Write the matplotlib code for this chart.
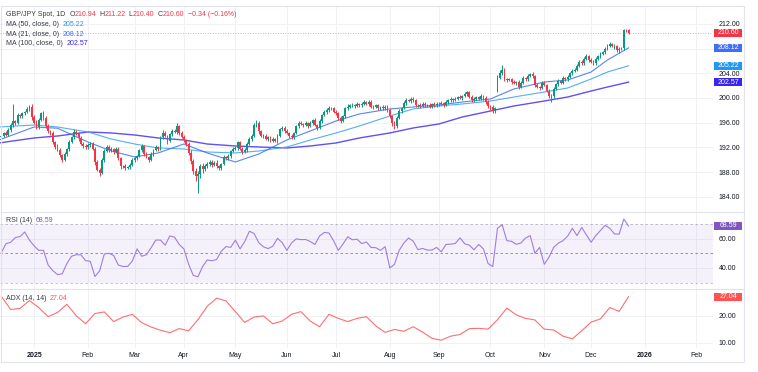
import numpy as np
import pandas as pd
import matplotlib
matplotlib.use('Agg')
import matplotlib.pyplot as plt
from matplotlib.patches import Rectangle
from matplotlib.lines import Line2D

plt.rcParams['font.family'] = ['Liberation Sans', 'DejaVu Sans']

W, H = 758, 372

# --- data --------------------------------------------------------------
dates = pd.bdate_range('2024-12-11', '2025-12-23')

closes = [
    193.6, 193.9, 194.3, 194.0, 194.8, 195.6, 196.3, 196.0, 197.2, 197.0, 197.5, 197.7, 198.2, 198.6, 196.9,
    196.0, 195.3, 196.5, 197.5, 196.8, 195.5, 194.6, 194.3, 192.8, 192.1, 191.6, 190.8, 190.0, 190.9, 191.7, 192.9, 193.6, 194.5, 194.3, 193.5, 192.6, 192.2, 192.0,
    192.4, 192.6, 191.8, 189.6, 188.4, 187.9, 190.0, 191.4, 192.1, 191.5, 191.7, 191.3, 191.8, 190.2, 188.9, 189.0, 188.7, 188.8, 189.1, 189.9,
    190.3, 190.6, 191.5, 192.2, 191.0, 190.4, 190.0, 190.9, 191.6, 192.0, 191.7, 193.6, 194.4, 193.8, 193.0, 194.1, 194.7, 194.5, 195.4, 194.3, 193.7,
    193.2, 192.6, 191.1, 189.8, 188.2, 187.3, 187.6, 188.9, 188.5, 188.9, 189.3, 189.6, 189.2, 189.5, 188.9, 188.7, 189.3, 190.4, 190.2, 190.6, 191.4, 191.7,
    191.9, 192.8, 191.8, 191.3, 191.6, 192.6, 193.3, 193.9, 195.6, 195.9, 194.6, 193.8, 193.9, 193.4, 193.6, 193.1, 193.3, 193.0, 193.9, 194.9, 195.2, 194.6,
    194.3, 193.8, 193.6, 194.3, 195.4, 196.0, 195.8, 195.6, 195.9, 195.5, 196.0, 196.4, 195.6, 195.1, 196.3, 197.2, 197.7, 198.0, 198.4, 198.3, 197.8,
    197.5, 196.8, 196.3, 197.0, 198.3, 198.6, 198.8, 198.9, 198.7, 199.0, 198.8, 199.1, 199.3, 199.0, 199.4, 198.6, 198.5, 198.8, 198.3, 198.5, 198.3, 198.6, 198.0,
    197.0, 195.9, 195.5, 196.8, 197.9, 198.4, 199.2, 199.7, 199.5, 199.9, 199.6, 198.8, 198.9, 198.7, 199.1, 198.8, 198.9, 198.6, 199.0, 198.8, 199.1,
    199.0, 199.2, 198.9, 199.3, 199.6, 199.8, 199.7, 199.9, 200.2, 200.0, 200.3, 200.6, 200.9, 200.2, 199.6, 199.9, 200.1, 199.9, 200.3, 200.0, 199.4, 198.7,
    198.5, 197.9, 198.4, 203.3, 204.1, 204.5, 203.1, 202.9, 203.0, 202.6, 202.4, 202.6, 201.8, 202.5, 203.2, 203.0, 203.6, 203.9, 203.5, 202.1, 201.8, 201.6, 202.5,
    202.1, 201.2, 200.4, 200.3, 201.5, 202.3, 202.7, 202.5, 203.2, 203.0, 203.4, 204.0, 204.4, 204.6, 205.2, 205.8, 205.6, 206.4, 206.8, 206.2,
    205.9, 205.6, 206.3, 206.8, 207.2, 207.4, 207.9, 208.5, 208.7, 208.4, 208.4, 207.7, 208.0, 208.1, 211.0, 210.94, 210.60,
]
first_open = 193.3
gap_opens = {'2025-10-06': 201.2}

# wick lengths in tenths of a yen
wick_up = [
    2, 3, 2, 4, 3, 3, 27, 2, 3, 2, 3, 2, 3, 3, 4,
    3, 4, 2, 3, 4, 2, 3, 2, 3, 2, 4, 3, 2, 3, 2, 3, 2, 4, 3, 2, 3, 2, 3,
    3, 2, 3, 2, 3, 2, 3, 4, 3, 2, 3, 2, 3, 2, 3, 2, 3, 2, 3, 3,
    3, 2, 3, 4, 2, 3, 2, 3, 2, 3, 2, 3, 4, 3, 2, 3, 2, 3, 5, 2, 3,
    3, 2, 3, 4, 3, 5, 6, 4, 5, 4, 3, 4, 3, 3, 4, 3, 2, 3, 2, 3, 2, 3,
    3, 2, 3, 2, 3, 2, 3, 3, 4, 6, 3, 2, 3, 2, 3, 2, 3, 2, 3, 3, 2, 3,
    3, 2, 3, 2, 3, 2, 3, 2, 3, 2, 3, 2, 3, 2, 3, 2, 3, 4, 3, 2, 3,
    3, 2, 3, 2, 3, 4, 2, 3, 2, 3, 2, 3, 4, 2, 3, 2, 3, 2, 3, 2, 3, 2, 3,
    3, 2, 3, 2, 3, 2, 3, 3, 2, 3, 2, 3, 2, 3, 2, 3, 2, 3, 2, 3, 2,
    2, 3, 2, 3, 2, 3, 2, 3, 2, 3, 2, 3, 3, 2, 3, 2, 3, 2, 3, 2, 3, 2,
    2, 3, 2, 4, 4, 8, 3, 2, 3, 2, 3, 2, 3, 2, 3, 2, 3, 2, 3, 2, 3, 2, 3,
    3, 2, 3, 2, 3, 2, 3, 2, 3, 2, 3, 2, 3, 2, 3, 4, 3, 2, 3, 2,
    3, 2, 3, 2, 3, 2, 3, 2, 3, 2, 3, 2, 3, 2, 2, 2, 3,
]
wick_dn = [
    3, 2, 3, 2, 2, 3, 3, 4, 2, 3, 2, 3, 2, 3, 4,
    2, 3, 3, 2, 3, 4, 2, 3, 3, 4, 2, 3, 4, 2, 3, 3, 2, 2, 3, 4, 2, 3, 2,
    2, 3, 3, 4, 3, 5, 2, 3, 2, 3, 2, 3, 2, 3, 4, 3, 3, 2, 3, 2,
    2, 3, 2, 3, 4, 2, 3, 2, 3, 2, 3, 2, 3, 2, 4, 2, 3, 2, 3, 3, 2,
    3, 4, 4, 5, 6, 8, 27, 5, 6, 4, 3, 3, 4, 3, 3, 4, 3, 2, 3, 2, 3, 2,
    2, 3, 2, 3, 2, 3, 2, 3, 2, 3, 4, 2, 3, 2, 3, 2, 3, 2, 3, 2, 3, 2,
    2, 3, 2, 3, 2, 3, 2, 3, 2, 3, 2, 3, 2, 3, 2, 3, 2, 3, 2, 3, 3,
    2, 3, 4, 2, 3, 2, 3, 2, 3, 2, 3, 2, 3, 2, 3, 2, 3, 2, 3, 2, 3, 2, 3,
    3, 4, 5, 3, 2, 3, 2, 3, 2, 3, 2, 3, 2, 3, 2, 3, 2, 3, 2, 3, 2,
    3, 2, 3, 2, 3, 2, 3, 2, 3, 2, 3, 2, 3, 2, 3, 2, 3, 2, 3, 3, 4, 4,
    4, 3, 3, 3, 3, 3, 4, 3, 2, 3, 2, 3, 4, 2, 3, 2, 3, 2, 3, 3, 2, 3, 2,
    2, 3, 4, 9, 3, 2, 3, 2, 3, 2, 3, 2, 3, 2, 3, 2, 3, 2, 3, 3,
    3, 2, 3, 2, 3, 2, 3, 2, 3, 2, 5, 3, 4, 3, 3, 3, 2,
]

ma_dates = ['2024-12-11', '2025-01-01', '2025-01-15', '2025-02-03', '2025-02-17', '2025-03-03',
            '2025-03-17', '2025-04-01', '2025-04-15', '2025-05-01', '2025-05-15', '2025-06-02',
            '2025-06-16', '2025-07-01', '2025-07-15', '2025-08-01', '2025-08-15', '2025-09-01',
            '2025-09-15', '2025-10-01', '2025-10-15', '2025-11-03', '2025-11-17', '2025-12-01',
            '2025-12-10', '2025-12-23']
ma21 = [193.19, 195.30, 195.10, 192.87, 191.41, 190.44, 191.09, 192.54, 191.09, 189.63, 190.92, 193.19,
        194.65, 196.27, 197.41, 198.22, 198.54, 198.87, 199.35, 199.84, 201.46, 202.59, 202.92, 204.21,
        206.16, 208.12]
ma50 = [195.30, 195.62, 195.30, 194.49, 193.35, 192.54, 191.90, 191.73, 191.25, 191.09, 191.41, 192.06,
        193.19, 194.33, 195.46, 197.08, 198.22, 198.70, 199.03, 199.51, 200.16, 200.97, 201.62, 203.08,
        204.21, 205.22]
ma100 = [192.71, 193.52, 193.84, 194.49, 194.33, 194.00, 193.52, 193.19, 192.54, 192.22, 192.06, 191.90,
         192.22, 192.71, 193.52, 194.33, 195.14, 195.79, 196.92, 197.89, 198.70, 199.51, 200.16, 201.13,
         201.78, 202.57]

# RSI read every second bar, ADX every fourth bar
rsi14 = [
    50.5, 56.5, 57.5, 60.7, 61.4, 64.5, 59, 55, 52, 52,
    42, 38.2, 35.5, 36, 43, 48, 49, 49, 45, 44.5,
    34.2, 38, 49.5, 50, 48.5, 42, 41, 41.1, 44.8, 53,
    48, 49, 53.8, 59, 59, 55.5, 61.8, 61, 56, 53,
    42.7, 35, 34, 41, 45.5, 44.9, 45.8, 51.4, 54.6, 54,
    59, 53, 58, 65, 63.5, 57.2, 54.4, 53.2, 54.8, 60.2,
    57.3, 52, 57, 59.8, 59.3, 59.4, 58, 56, 61.8, 64.2,
    63.8, 58.5, 52, 56.3, 61.2, 59.2, 59.6, 56.6, 57.7, 54,
    53.8, 52, 54.5, 40, 42.5, 52, 57, 60.4, 58.3, 52.5,
    53.3, 52.2, 52.2, 54, 51, 56, 56.2, 56.7, 60.5, 56.5,
    55.5, 52.4, 56, 53, 43, 41, 67, 69.5, 58.6, 58.2,
    56.1, 57, 60.4, 62, 50, 54, 42.5, 47.3, 54, 56.9,
    58.6, 61.7, 67, 62, 67.6, 62.5, 57.5, 62, 65.5, 69,
    67, 63.2, 63, 73.3, 68.59,
]
adx14 = [
    27.2, 22.3, 22.7, 25.6, 23, 19.6, 21.2, 24.2, 20, 17,
    20.8, 21.4, 17.8, 19.5, 20.5, 17.4, 15.8, 14.6, 13.7, 15.2,
    14.4, 18.5, 23.5, 26.5, 25.5, 21.5, 17.5, 19.5, 19.9, 17,
    18, 20.5, 21.5, 18, 15.9, 20.5, 19, 17.8, 19, 19.6,
    16.2, 13.8, 14.9, 14.2, 15.9, 13.9, 11.6, 10.9, 12.4, 13,
    15.2, 15.3, 15, 18.5, 22.8, 20.3, 19, 18.4, 15, 14.7,
    12.4, 11.4, 14.4, 17.6, 18.8, 23, 21.6, 27.04,
]

price_ticks = [184, 188, 192, 196, 200, 204, 208, 212]
rsi_ticks = [40, 60]
adx_ticks = [10, 20]

UP, DOWN = '#089981', '#F23645'
TXT = '#363a45'
C21, C50, C100 = '#3d6ef5', '#42a5f5', '#3a24f0'
RSI_C, ADX_C = '#a27ddf', '#ff6e6e'

# --- derived -------------------------------------------------------------
c = np.array(closes)
o = np.r_[first_open, c[:-1]]
for d, v in gap_opens.items():
    o[dates.get_loc(pd.Timestamp(d))] = v
hi = np.maximum(o, c) + np.array(wick_up) / 10
lo = np.minimum(o, c) - np.array(wick_dn) / 10
idx = np.arange(len(dates))
ma_x = [dates.get_loc(pd.Timestamp(d)) for d in ma_dates]

# month ticks, running on into 2026
cal = pd.bdate_range('2024-12-11', '2026-02-27')
month_x, month_lab = [], []
for p in pd.period_range('2025-01', '2026-02', freq='M'):
    i = int(np.argmax((cal.year == p.year) & (cal.month == p.month)))
    month_x.append(i)
    month_lab.append(str(p.year) if p.month == 1 else p.strftime('%b'))

fig = plt.figure(figsize=(W / 100, H / 100), dpi=100)


def px_axes(x0, y0, x1, y1):
    return fig.add_axes([x0 / W, 1 - y1 / H, (x1 - x0) / W, (y1 - y0) / H])


ax = px_axes(0, 6, 713, 212)
ax_rsi = px_axes(0, 212, 713, 289)
ax_adx = px_axes(0, 289, 713, 348)

for a in (ax, ax_rsi, ax_adx):
    for s in a.spines.values():
        s.set_visible(False)
    a.set_xlim(0.43, 305.1)
    a.set_xticks(month_x)
    a.yaxis.tick_right()
    a.tick_params(length=0, labelsize=5, colors='#131722', pad=4)
    a.grid(True, color='#eff1f5', lw=0.7)
    a.set_axisbelow(True)

ax.tick_params(labelbottom=False)
ax_rsi.tick_params(labelbottom=False)
ax_adx.set_xticklabels(month_lab)
ax_adx.tick_params(axis='x', pad=3)
for t in ax_adx.get_xticklabels():
    if t.get_text().isdigit():
        t.set_fontweight('bold')

# candles
col = np.where(c >= o, UP, DOWN)
ax.vlines(idx, lo, hi, colors=col, lw=0.7, zorder=3)
body = np.where(np.abs(c - o) < 0.08, 0.08, c - o)
ax.bar(idx, body, bottom=o, width=0.78, color=col, lw=0, zorder=3)

ax.plot(ma_x, ma100, color=C100, lw=1.0, alpha=0.8, zorder=2)
ax.plot(ma_x, ma50, color=C50, lw=0.8, alpha=0.9, zorder=2)
ax.plot(ma_x, ma21, color=C21, lw=0.8, alpha=0.85, zorder=2)
ax.axhline(closes[-1], color=DOWN, lw=0.6, ls=(0, (1, 2)), alpha=0.6)
ax.set_ylim(181.52, 214.91)
ax.set_yticks(price_ticks)
# 208.00 sits under the MA(21) price tag in the original
ax.set_yticklabels(['' if v == 208 else f'{v:.2f}' for v in price_ticks])

# RSI
ax_rsi.axhspan(30, 70, color='#7e57c2', alpha=0.08, lw=0)
for lvl, al in ((70, 0.5), (50, 0.9), (30, 0.5)):
    ax_rsi.axhline(lvl, color='#787b86', lw=0.6, ls=(0, (3, 3)), alpha=al)
ax_rsi.plot(idx[1::2], rsi14, color=RSI_C, lw=0.8)
ax_rsi.set_ylim(25.7, 78.1)
ax_rsi.set_yticks(rsi_ticks)
ax_rsi.set_yticklabels([f'{v:.2f}' for v in rsi_ticks])

# ADX
ax_adx.plot(idx[1::4], adx14, color=ADX_C, lw=0.8)
ax_adx.set_ylim(8.0, 29.9)
ax_adx.set_yticks(adx_ticks)
ax_adx.set_yticklabels([f'{v:.2f}' for v in adx_ticks])

# frame and pane separators
fig.patches.append(Rectangle((1 / W, 1 - 362 / H), 743 / W, 356 / H, transform=fig.transFigure,
                             fill=False, ec='#e0e3eb', lw=0.8))
for yy in (212, 289):
    fig.lines.append(Line2D([1 / W, 744 / W], [1 - yy / H] * 2, transform=fig.transFigure,
                            color='#e0e3eb', lw=0.8))


def tag(a, val, s, fc):
    yd = a.transData.transform((1, val))[1] / H
    fig.patches.append(Rectangle((714 / W, yd - 4 / H), 28 / W, 8 / H, transform=fig.transFigure,
                                 fc=fc, ec='none', zorder=5))
    fig.text(728 / W, yd, s, ha='center', va='center', color='white', fontsize=5, zorder=6)


tag(ax, closes[-1], f'{closes[-1]:.2f}', DOWN)
tag(ax, ma21[-1], f'{ma21[-1]:.2f}', C21)
tag(ax, ma50[-1], f'{ma50[-1]:.2f}', '#2196f3')
tag(ax, ma100[-1], f'{ma100[-1]:.2f}', C100)
tag(ax_rsi, rsi14[-1], f'{rsi14[-1]:.2f}', '#7e57c2')
tag(ax_adx, adx14[-1], f'{adx14[-1]:.2f}', '#ff5252')

rend = fig.canvas.get_renderer()


def rich(x, y, parts, gap=0.0):
    for s, colr in parts:
        t = fig.text(x / W, 1 - y / H, s, color=colr, fontsize=5, va='center', ha='left', zorder=7)
        x += t.get_window_extent(renderer=rend).width + gap
    return x


x_end = rich(6, 15, [('GBP/JPY Spot, 1D', TXT)]) + 4
for k, v in (('O', '210.94'), ('H', '211.22'), ('L', '210.40'), ('C', '210.60')):
    x_end = rich(x_end, 15, [(k, TXT), (v, DOWN)]) + 3
rich(x_end + 1, 15, [('\u22120.34 (\u22120.16%)', DOWN)])
rich(6, 24.3, [('MA (50, close, 0)', TXT), (f'{ma50[-1]:.2f}', '#2196f3')], gap=3.5)
rich(6, 34, [('MA (21, close, 0)', TXT), (f'{ma21[-1]:.2f}', C21)], gap=3.5)
rich(6, 43.7, [('MA (100, close, 0)', TXT), (f'{ma100[-1]:.2f}', C100)], gap=3.5)
rich(6, 220, [('RSI (14)', TXT), (f'{rsi14[-1]:.2f}', '#7e57c2')], gap=3.5)
rich(6, 299, [('ADX (14, 14)', TXT), (f'{adx14[-1]:.2f}', '#ff5252')], gap=3.5)

fig.savefig('out.png', dpi=100)
